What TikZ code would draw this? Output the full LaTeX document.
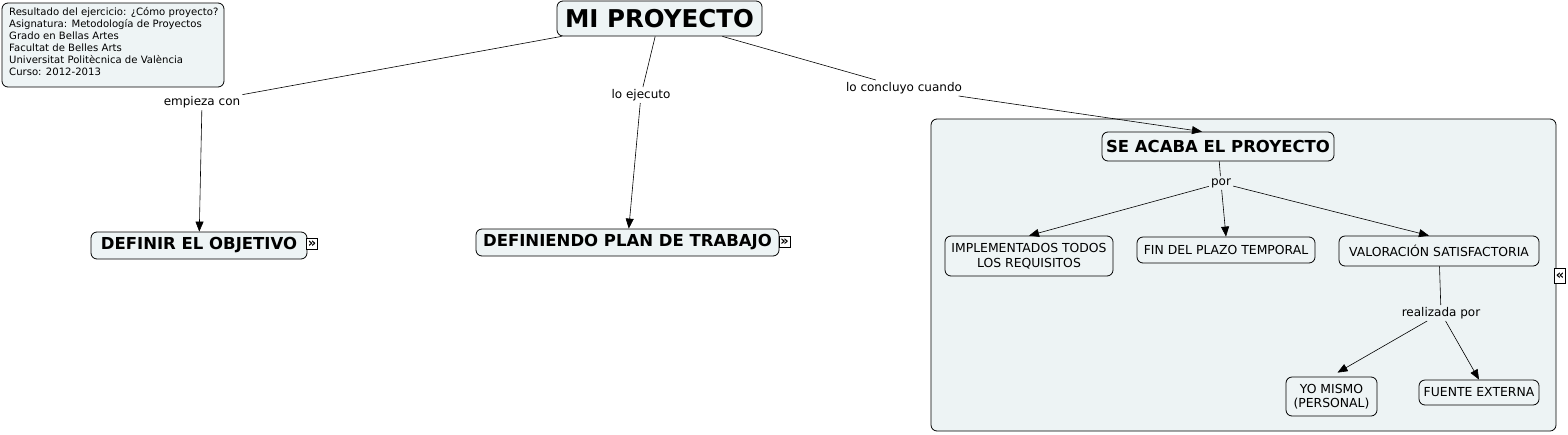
\documentclass[tikz,border=0pt]{standalone}
\usepackage{fontspec}
\setmainfont{DejaVu Sans}
\usetikzlibrary{arrows.meta,calc}
\definecolor{nodefill}{HTML}{EEF4F5}
\definecolor{groupfill}{HTML}{EDF3F4}
\begin{document}
\begin{tikzpicture}[x=1pt,y=-1pt,
  concept/.style={draw, rounded corners=6pt, fill=nodefill, align=center, inner sep=0pt,
    font=\fontsize{12.4}{14.5}\selectfont, line width=0.8pt},
  bigconcept/.style={concept, font=\bfseries\fontsize{16.5}{18}\selectfont},
  linklabel/.style={inner sep=2pt, font=\fontsize{12}{14}\selectfont},
  plainline/.style={line width=0.6pt},
  arrowline/.style={line width=0.6pt, -{Triangle[length=10pt,width=8pt]}},
  expander/.style={draw, fill=white, inner sep=0pt, minimum size=11pt, line width=0.5pt,
    font=\bfseries\fontsize{13}{13}\selectfont}
]
\useasboundingbox (0,0) rectangle (1568,434);

% group background
\node[draw, rounded corners=6pt, fill=groupfill, line width=0.8pt, minimum width=625pt,
  minimum height=312pt, inner sep=0pt] (group) at (1243.5,275) {};

% info box
\node[concept, minimum width=222pt, minimum height=84pt] (info) at (113,45) {};
\node[anchor=north west, align=left, inner sep=0pt, font=\fontsize{10.1}{12}\selectfont] (infotext) at (9,7.5)
{Resultado del ejercicio: ¿Cómo proyecto?\\Asignatura: Metodología de Proyectos\\Grado en Bellas Artes\\Facultat de Belles Arts\\Universitat Politècnica de València\\Curso: 2012-2013};

% concepts
\node[concept, font=\bfseries\fontsize{24.5}{26}\selectfont, minimum width=205pt, minimum height=35pt] (mi) at (659.5,18.5) {MI PROYECTO};
\node[bigconcept, minimum width=216pt, minimum height=27pt] (obj) at (199,245.5) {DEFINIR EL OBJETIVO};
\node[bigconcept, minimum width=303pt, minimum height=27pt] (plan) at (627.5,242.5) {DEFINIENDO PLAN DE TRABAJO};
\node[bigconcept, minimum width=232pt, minimum height=29pt] (fin) at (1218,146.5) {SE ACABA EL PROYECTO};
\node[concept, minimum width=168pt, minimum height=40pt] (impl) at (1029,256) {IMPLEMENTADOS TODOS\\LOS REQUISITOS};
\node[concept, minimum width=178pt, minimum height=26pt] (plazo) at (1226,250) {FIN DEL PLAZO TEMPORAL};
\node[concept, minimum width=200pt, minimum height=30pt] (val) at (1439,251) {VALORACIÓN SATISFACTORIA};
\node[concept, minimum width=91pt, minimum height=39pt] (yo) at (1331.5,396.5) {YO MISMO\\(PERSONAL)};
\node[concept, minimum width=120pt, minimum height=25pt] (ext) at (1479,392.5) {FUENTE EXTERNA};

% expanders
\node[expander] (expobj) at (312,244) {»};
\node[expander] (expplan) at (784.5,242) {»};
\node[expander, minimum height=15pt] (expgroup) at (1560,276) {«};

% link labels
\node[linklabel] (empieza) at (202,102) {empieza con};
\node[linklabel] (ejecuto) at (641,95) {lo ejecuto};
\node[linklabel] (concluyo) at (904,88) {lo concluyo cuando};
\node[linklabel] (por) at (1221,183) {por};
\node[linklabel] (realizada) at (1441,313) {realizada por};

% connectors
\draw[plainline] (mi) -- (empieza);
\draw[arrowline] (empieza) -- (obj);
\draw[plainline] (mi) -- (ejecuto);
\draw[arrowline] (ejecuto) -- (plan);
\draw[plainline] (mi) -- (concluyo);
\draw[arrowline] (concluyo) -- ($(fin.north)+(-16,0)$);
\draw[plainline] (fin) -- (por);
\draw[arrowline] (por) -- (impl.north);
\draw[arrowline] (por) -- (plazo.north);
\draw[arrowline] (por) -- ($(val.north)+(-10,0)$);
\draw[plainline] (val) -- (realizada);
\draw[arrowline] (realizada) -- ($(yo.north)+(6,-4)$);
\draw[arrowline] (realizada) -- (ext.north);
\end{tikzpicture}
\end{document}
